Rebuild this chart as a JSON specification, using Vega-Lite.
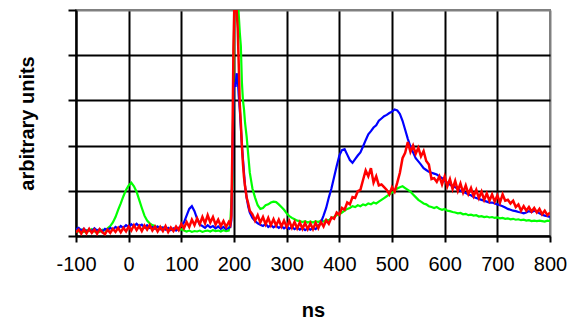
{
  "$schema": "https://vega.github.io/schema/vega-lite/v6.json",
  "autosize": "none",
  "width": 474,
  "height": 226,
  "padding": {"left": 76, "top": 10, "right": 20, "bottom": 84},
  "background": "white",
  "config": {
    "view": {"stroke": "#808080", "strokeWidth": 2},
    "font": "Liberation Sans"
  },
  "data": {"values": [
    {"t":-100,"b":0.15,"g":0.12,"r":0.08},{"t":-95,"b":0.18,"g":0.10,"r":0.14},{"t":-90,"b":0.12,"g":0.14,"r":0.05},{"t":-85,"b":0.16,"g":0.09,"r":0.15},{"t":-80,"b":0.10,"g":0.13,"r":0.06},{"t":-75,"b":0.14,"g":0.11,"r":0.16},{"t":-70,"b":0.11,"g":0.15,"r":0.07},{"t":-65,"b":0.17,"g":0.10,"r":0.14},{"t":-60,"b":0.12,"g":0.13,"r":0.05},{"t":-55,"b":0.15,"g":0.09,"r":0.15},{"t":-50,"b":0.10,"g":0.14,"r":0.08},{"t":-45,"b":0.16,"g":0.12,"r":0.04},{"t":-40,"b":0.13,"g":0.17,"r":0.14},{"t":-35,"b":0.18,"g":0.22,"r":0.07},{"t":-30,"b":0.14,"g":0.30,"r":0.16},{"t":-25,"b":0.20,"g":0.42,"r":0.09},{"t":-20,"b":0.16,"g":0.58,"r":0.18},{"t":-15,"b":0.22,"g":0.72,"r":0.08},{"t":-10,"b":0.18,"g":0.88,"r":0.18},{"t":-5,"b":0.24,"g":1.02,"r":0.10},{"t":0,"b":0.20,"g":1.12,"r":0.21},{"t":5,"b":0.26,"g":1.18,"r":0.12},{"t":10,"b":0.21,"g":1.10,"r":0.24},{"t":15,"b":0.27,"g":0.98,"r":0.13},{"t":20,"b":0.22,"g":0.80,"r":0.22},{"t":25,"b":0.25,"g":0.62,"r":0.11},{"t":30,"b":0.19,"g":0.45,"r":0.23},{"t":35,"b":0.24,"g":0.34,"r":0.14},{"t":40,"b":0.18,"g":0.28,"r":0.24},{"t":45,"b":0.20,"g":0.24,"r":0.12},{"t":50,"b":0.16,"g":0.22,"r":0.21},{"t":55,"b":0.21,"g":0.19,"r":0.10},{"t":60,"b":0.15,"g":0.20,"r":0.20},{"t":65,"b":0.19,"g":0.17,"r":0.11},{"t":70,"b":0.14,"g":0.18,"r":0.22},{"t":75,"b":0.18,"g":0.15,"r":0.09},{"t":80,"b":0.13,"g":0.17,"r":0.19},{"t":85,"b":0.17,"g":0.14,"r":0.11},{"t":90,"b":0.12,"g":0.16,"r":0.21},{"t":95,"b":0.18,"g":0.13,"r":0.13},{"t":100,"b":0.22,"g":0.15,"r":0.27},{"t":105,"b":0.30,"g":0.12,"r":0.17},{"t":110,"b":0.45,"g":0.10,"r":0.31},{"t":115,"b":0.60,"g":0.12,"r":0.20},{"t":120,"b":0.66,"g":0.09,"r":0.36},{"t":125,"b":0.55,"g":0.11,"r":0.24},{"t":130,"b":0.38,"g":0.10,"r":0.39},{"t":135,"b":0.25,"g":0.12,"r":0.26},{"t":140,"b":0.22,"g":0.09,"r":0.42},{"t":145,"b":0.18,"g":0.11,"r":0.28},{"t":150,"b":0.24,"g":0.12,"r":0.46},{"t":155,"b":0.19,"g":0.10,"r":0.30},{"t":160,"b":0.22,"g":0.13,"r":0.42},{"t":165,"b":0.17,"g":0.11,"r":0.25},{"t":170,"b":0.21,"g":0.12,"r":0.36},{"t":175,"b":0.16,"g":0.10,"r":0.22},{"t":180,"b":0.20,"g":0.13,"r":0.33},{"t":185,"b":0.15,"g":0.11,"r":0.20},{"t":190,"b":0.18,"g":0.12,"r":0.31},{"t":193,"b":0.20,"g":0.30,"r":0.25},{"t":195,"b":0.35,"g":0.75,"r":0.45},{"t":197,"b":1.5,"g":1.2,"r":2.0},{"t":199,"b":3.2,"g":3.5,"r":4.2},{"t":201,"b":3.4,"g":5.3,"r":5.3},{"t":203,"b":3.3,"g":5.3,"r":5.3},{"t":205,"b":3.6,"g":5.3,"r":5.0},{"t":207,"b":3.5,"g":5.3,"r":4.6},{"t":209,"b":3.1,"g":4.9,"r":3.8},{"t":211,"b":2.8,"g":4.5,"r":2.9},{"t":213,"b":2.4,"g":4.2,"r":2.5},{"t":215,"b":2.0,"g":3.4,"r":2.0},{"t":217,"b":1.7,"g":3.0,"r":1.6},{"t":219,"b":1.4,"g":2.8,"r":1.3},{"t":221,"b":1.1,"g":2.5,"r":1.1},{"t":224,"b":0.85,"g":2.2,"r":0.85},{"t":227,"b":0.65,"g":1.8,"r":0.72},{"t":230,"b":0.52,"g":1.4,"r":0.56},{"t":235,"b":0.40,"g":1.05,"r":0.48},{"t":240,"b":0.33,"g":0.85,"r":0.34},{"t":245,"b":0.28,"g":0.68,"r":0.46},{"t":250,"b":0.25,"g":0.60,"r":0.30},{"t":255,"b":0.22,"g":0.62,"r":0.42},{"t":260,"b":0.27,"g":0.68,"r":0.26},{"t":265,"b":0.20,"g":0.70,"r":0.40},{"t":270,"b":0.24,"g":0.74,"r":0.24},{"t":275,"b":0.19,"g":0.76,"r":0.37},{"t":280,"b":0.23,"g":0.75,"r":0.23},{"t":285,"b":0.18,"g":0.70,"r":0.36},{"t":290,"b":0.22,"g":0.64,"r":0.21},{"t":295,"b":0.17,"g":0.58,"r":0.34},{"t":300,"b":0.21,"g":0.50,"r":0.20},{"t":305,"b":0.16,"g":0.44,"r":0.33},{"t":310,"b":0.20,"g":0.40,"r":0.18},{"t":315,"b":0.15,"g":0.37,"r":0.31},{"t":320,"b":0.19,"g":0.34,"r":0.17},{"t":325,"b":0.14,"g":0.33,"r":0.30},{"t":330,"b":0.18,"g":0.31,"r":0.16},{"t":335,"b":0.13,"g":0.33,"r":0.29},{"t":340,"b":0.17,"g":0.30,"r":0.15},{"t":345,"b":0.14,"g":0.32,"r":0.28},{"t":350,"b":0.18,"g":0.30,"r":0.15},{"t":355,"b":0.15,"g":0.33,"r":0.29},{"t":360,"b":0.22,"g":0.31,"r":0.17},{"t":365,"b":0.30,"g":0.34,"r":0.31},{"t":370,"b":0.45,"g":0.32,"r":0.21},{"t":375,"b":0.62,"g":0.36,"r":0.35},{"t":380,"b":0.85,"g":0.34,"r":0.27},{"t":385,"b":1.05,"g":0.40,"r":0.41},{"t":390,"b":1.30,"g":0.42,"r":0.38},{"t":395,"b":1.55,"g":0.46,"r":0.52},{"t":400,"b":1.78,"g":0.48,"r":0.47},{"t":405,"b":1.90,"g":0.52,"r":0.62},{"t":410,"b":1.92,"g":0.56,"r":0.58},{"t":415,"b":1.80,"g":0.60,"r":0.74},{"t":420,"b":1.68,"g":0.62,"r":0.70},{"t":425,"b":1.62,"g":0.66,"r":0.86},{"t":430,"b":1.70,"g":0.64,"r":0.84},{"t":435,"b":1.78,"g":0.68,"r":0.99},{"t":440,"b":1.85,"g":0.66,"r":1.02},{"t":445,"b":1.98,"g":0.70,"r":1.24},{"t":450,"b":2.12,"g":0.68,"r":1.45},{"t":455,"b":2.25,"g":0.72,"r":1.32},{"t":460,"b":2.32,"g":0.70,"r":1.50},{"t":465,"b":2.40,"g":0.74,"r":1.18},{"t":470,"b":2.45,"g":0.72,"r":1.32},{"t":475,"b":2.55,"g":0.76,"r":1.12},{"t":480,"b":2.60,"g":0.80,"r":1.14},{"t":485,"b":2.65,"g":0.84,"r":1.08},{"t":490,"b":2.68,"g":0.88,"r":1.02},{"t":495,"b":2.72,"g":0.92,"r":0.92},{"t":500,"b":2.75,"g":0.96,"r":1.08},{"t":505,"b":2.80,"g":1.00,"r":0.98},{"t":510,"b":2.78,"g":1.05,"r":1.18},{"t":515,"b":2.70,"g":1.08,"r":1.40},{"t":520,"b":2.55,"g":1.10,"r":1.72},{"t":525,"b":2.35,"g":1.06,"r":1.84},{"t":530,"b":2.15,"g":1.02,"r":2.08},{"t":535,"b":1.98,"g":0.98,"r":1.86},{"t":540,"b":1.85,"g":0.92,"r":2.00},{"t":545,"b":1.72,"g":0.86,"r":1.82},{"t":550,"b":1.65,"g":0.80,"r":1.95},{"t":555,"b":1.58,"g":0.76,"r":1.76},{"t":560,"b":1.50,"g":0.72,"r":1.88},{"t":565,"b":1.46,"g":0.70,"r":1.66},{"t":570,"b":1.42,"g":0.66,"r":1.58},{"t":575,"b":1.40,"g":0.64,"r":1.26},{"t":580,"b":1.38,"g":0.62,"r":1.28},{"t":585,"b":1.36,"g":0.64,"r":1.20},{"t":590,"b":1.32,"g":0.60,"r":1.32},{"t":595,"b":1.28,"g":0.58,"r":1.14},{"t":600,"b":1.22,"g":0.60,"r":1.32},{"t":605,"b":1.18,"g":0.56,"r":1.10},{"t":610,"b":1.14,"g":0.55,"r":1.26},{"t":615,"b":1.10,"g":0.53,"r":1.04},{"t":620,"b":1.08,"g":0.52,"r":1.22},{"t":625,"b":1.04,"g":0.50,"r":1.00},{"t":630,"b":1.00,"g":0.51,"r":1.16},{"t":635,"b":0.98,"g":0.48,"r":0.96},{"t":640,"b":0.95,"g":0.49,"r":1.12},{"t":645,"b":0.92,"g":0.46,"r":0.93},{"t":650,"b":0.90,"g":0.47,"r":1.06},{"t":655,"b":0.86,"g":0.45,"r":0.88},{"t":660,"b":0.84,"g":0.46,"r":1.02},{"t":665,"b":0.82,"g":0.43,"r":0.84},{"t":670,"b":0.80,"g":0.44,"r":0.98},{"t":675,"b":0.78,"g":0.42,"r":0.80},{"t":680,"b":0.76,"g":0.43,"r":0.94},{"t":685,"b":0.74,"g":0.41,"r":0.78},{"t":690,"b":0.74,"g":0.42,"r":0.92},{"t":695,"b":0.72,"g":0.40,"r":0.76},{"t":700,"b":0.70,"g":0.41,"r":0.90},{"t":705,"b":0.68,"g":0.39,"r":0.74},{"t":710,"b":0.66,"g":0.40,"r":0.92},{"t":715,"b":0.63,"g":0.38,"r":0.78},{"t":720,"b":0.60,"g":0.39,"r":0.80},{"t":725,"b":0.58,"g":0.37,"r":0.72},{"t":730,"b":0.56,"g":0.38,"r":0.78},{"t":735,"b":0.55,"g":0.36,"r":0.64},{"t":740,"b":0.53,"g":0.37,"r":0.70},{"t":745,"b":0.52,"g":0.35,"r":0.56},{"t":750,"b":0.50,"g":0.36,"r":0.66},{"t":755,"b":0.52,"g":0.34,"r":0.56},{"t":760,"b":0.55,"g":0.35,"r":0.64},{"t":765,"b":0.53,"g":0.33,"r":0.54},{"t":770,"b":0.56,"g":0.34,"r":0.62},{"t":775,"b":0.54,"g":0.33,"r":0.52},{"t":780,"b":0.50,"g":0.34,"r":0.60},{"t":785,"b":0.47,"g":0.33,"r":0.48},{"t":790,"b":0.45,"g":0.32,"r":0.56},{"t":795,"b":0.44,"g":0.34,"r":0.46},{"t":800,"b":0.42,"g":0.33,"r":0.52}
  ]},
  "encoding": {
    "x": {
      "field": "t", "type": "quantitative",
      "scale": {"domain": [-100, 800], "nice": false, "zero": false},
      "axis": {
        "title": "ns", "titleFontSize": 20, "titleFontWeight": "bold", "titleColor": "black", "titlePadding": 26,
        "values": [-100, 0, 100, 200, 300, 400, 500, 600, 700, 800],
        "labelExpr": "'' + datum.value",
        "labelFontSize": 20, "labelColor": "black", "labelPadding": 12, "labelFlush": false,
        "domainColor": "black", "domainWidth": 2,
        "tickColor": "black", "tickSize": 6, "tickWidth": 2,
        "grid": true, "gridWidth": 2,
        "gridColor": {"condition": {"test": "datum.value == 800", "value": "#808080"}, "value": "black"}
      }
    }
  },
  "layer": [
    {
      "mark": {"type": "line", "color": "#00FF00", "strokeWidth": 2.2, "clip": true},
      "encoding": {
        "y": {
          "field": "g", "type": "quantitative",
          "scale": {"domain": [0, 5], "nice": false},
          "axis": {
            "title": "arbitrary units", "titleFontSize": 20, "titleFontWeight": "bold", "titleColor": "black", "titlePadding": 30,
            "values": [0, 1, 2, 3, 4, 5], "labels": false,
            "domainColor": "black", "domainWidth": 2,
            "tickColor": "black", "tickSize": 8, "tickWidth": 2,
            "grid": true, "gridWidth": 2,
            "gridColor": {"condition": {"test": "datum.value == 5", "value": "#808080"}, "value": "black"}
          }
        }
      }
    },
    {
      "mark": {"type": "line", "color": "#0000FF", "strokeWidth": 2.2, "clip": true},
      "encoding": {"y": {"field": "b", "type": "quantitative"}}
    },
    {
      "mark": {"type": "line", "color": "#FF0000", "strokeWidth": 2.5, "clip": true},
      "encoding": {"y": {"field": "r", "type": "quantitative"}}
    }
  ]
}
